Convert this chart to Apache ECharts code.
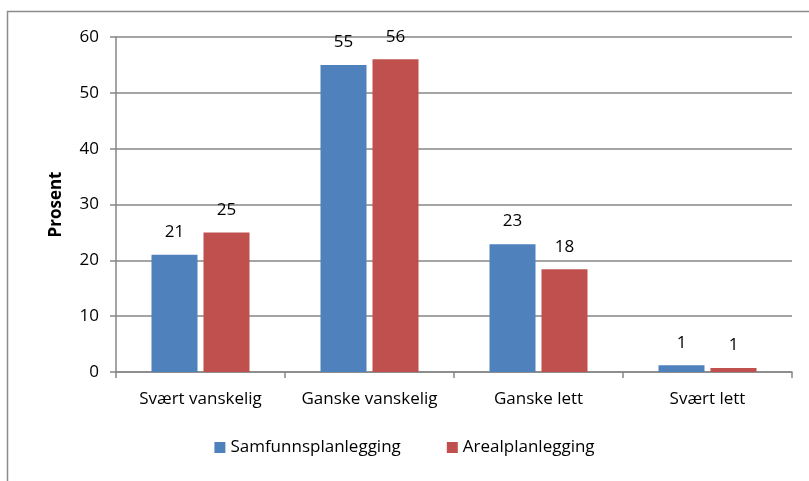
<!DOCTYPE html>
<html>
<head>
<meta charset="utf-8">
<script src="https://cdn.jsdelivr.net/npm/echarts@6/dist/echarts.min.js"></script>
<style>
  html, body { margin: 0; padding: 0; background: #fff; }
  #chart { width: 809px; height: 481px; }
</style>
</head>
<body>
<div id="chart"></div>
<script>
// data
const categories = ['Svært vanskelig', 'Ganske vanskelig', 'Ganske lett', 'Svært lett']
const samfunn = [21, 55, 22.9, 1.2]
const areal = [25, 56, 18.4, 0.7]
const yTicks = { min: 0, max: 60, interval: 10 }

const font = '"Open Sans", "Noto Sans", sans-serif'

let myChart = echarts.init(document.getElementById('chart'))

let label = {
    show: true,
    position: 'top',
    distance: 14,
    color: '#000',
    fontFamily: font,
    fontSize: 17,
    formatter: p => Math.round(p.value)
}

let option = {
    animation: false,
    grid: { left: 116, right: 17, top: 37, bottom: 109 },
    // outer frame
    graphic: [{
        type: 'rect',
        shape: { x: 7.5, y: 11.5, width: 900, height: 600 },
        style: { fill: 'none', stroke: '#8c8c8c', lineWidth: 1.5 },
        silent: true
    }],
    legend: {
        bottom: 20,
        left: 'center',
        itemWidth: 11,
        itemHeight: 11,
        itemGap: 46,
        icon: 'rect',
        textStyle: { fontFamily: font, fontSize: 17, color: '#000' }
    },
    xAxis: {
        type: 'category',
        data: categories,
        axisLine: { lineStyle: { color: '#868686', width: 1.5 } },
        axisTick: { show: true, length: 6, alignWithLabel: false, lineStyle: { color: '#868686', width: 1.5 } },
        axisLabel: { interval: 0, margin: 19, color: '#000', fontFamily: font, fontSize: 17 }
    },
    yAxis: {
        type: 'value',
        min: yTicks.min,
        max: yTicks.max,
        interval: yTicks.interval,
        name: 'Prosent',
        nameLocation: 'middle',
        nameGap: 51,
        nameTextStyle: { fontFamily: font, fontSize: 17, fontWeight: 'bold', color: '#000' },
        axisLine: { show: true, lineStyle: { color: '#868686', width: 1.5 } },
        axisTick: { show: true, length: 6, lineStyle: { color: '#868686', width: 1.5 } },
        axisLabel: { margin: 17, color: '#000', fontFamily: font, fontSize: 17 },
        splitLine: { lineStyle: { color: '#868686', width: 1.5 } }
    },
    series: [
        {
            name: 'Samfunnsplanlegging',
            type: 'bar',
            data: samfunn,
            barGap: '13%',
            barCategoryGap: '42%',
            itemStyle: { color: '#4F81BD' },
            label: label
        },
        {
            name: 'Arealplanlegging',
            type: 'bar',
            data: areal,
            itemStyle: { color: '#C0504D' },
            label: label
        }
    ]
}

myChart.setOption(option)
</script>
</body>
</html>
